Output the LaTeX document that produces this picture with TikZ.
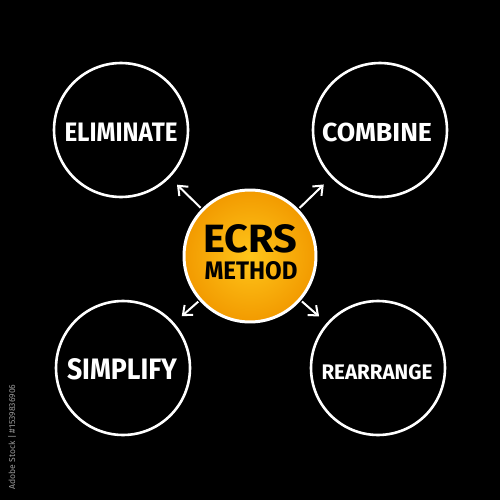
\documentclass[tikz,border=0pt]{standalone}
\usepackage{fontspec}
\setmainfont{Fira Sans}
\usetikzlibrary{arrows.meta}
\definecolor{orin}{HTML}{FFC61A}
\definecolor{orout}{HTML}{F29A00}
\definecolor{wmgray}{HTML}{9A9A9A}
\newcommand{\fit}[3]{\resizebox{#1}{#2}{\bfseries #3}}
\tikzset{
  outer/.style={circle, draw=white, line width=0.052cm, minimum size=2.68cm, inner sep=0pt, fill=black},
  core/.style={circle, draw=white, line width=0.06cm, minimum size=2.64cm, inner sep=0pt, shading=radial, inner color=orin, outer color=orout},
  lbl/.style={text=white, inner sep=0pt},
  clbl/.style={text=black, inner sep=0pt},
  link/.style={draw=white, line width=0.04cm, -{Straight Barb[length=0.16cm,width=0.26cm,line width=0.04cm]}, shorten <=0.03cm, shorten >=0.2cm}
}
\begin{document}
\begin{tikzpicture}[x=0.02cm, y=-0.02cm]
\useasboundingbox (0,0) rectangle (500,500);
\fill[black] (0,0) rectangle (500,500);
\node[outer] (tl) at (121,130) {};
\node[outer] (tr) at (380,130) {};
\node[outer] (bl) at (123,368) {};
\node[outer] (br) at (378,368) {};
\node[core] (c) at (250,256) {};
\draw[link] (c) -- (tl);
\draw[link] (c) -- (tr);
\draw[link] (c) -- (bl);
\draw[link] (c) -- (br);
\node[lbl] (t1) at (121,132) {\fit{2.26cm}{0.37cm}{ELIMINATE}};
\node[lbl] (t2) at (377,132) {\fit{2.2cm}{0.37cm}{COMBINE}};
\node[lbl] (t3) at (122,369) {\fit{2.2cm}{0.42cm}{SIMPLIFY}};
\node[lbl] (t4) at (377,372) {\fit{2.22cm}{0.30cm}{REARRANGE}};
\node[clbl] (t5) at (250,239) {\fit{1.88cm}{0.56cm}{ECRS}};
\node[clbl] (t6) at (251,271) {\fit{1.86cm}{0.36cm}{METHOD}};
\node[text=wmgray, inner sep=0pt, rotate=90] (wm) at (12,437) {\resizebox{2.1cm}{!}{Adobe Stock | \#1539836906}};
\end{tikzpicture}
\end{document}
